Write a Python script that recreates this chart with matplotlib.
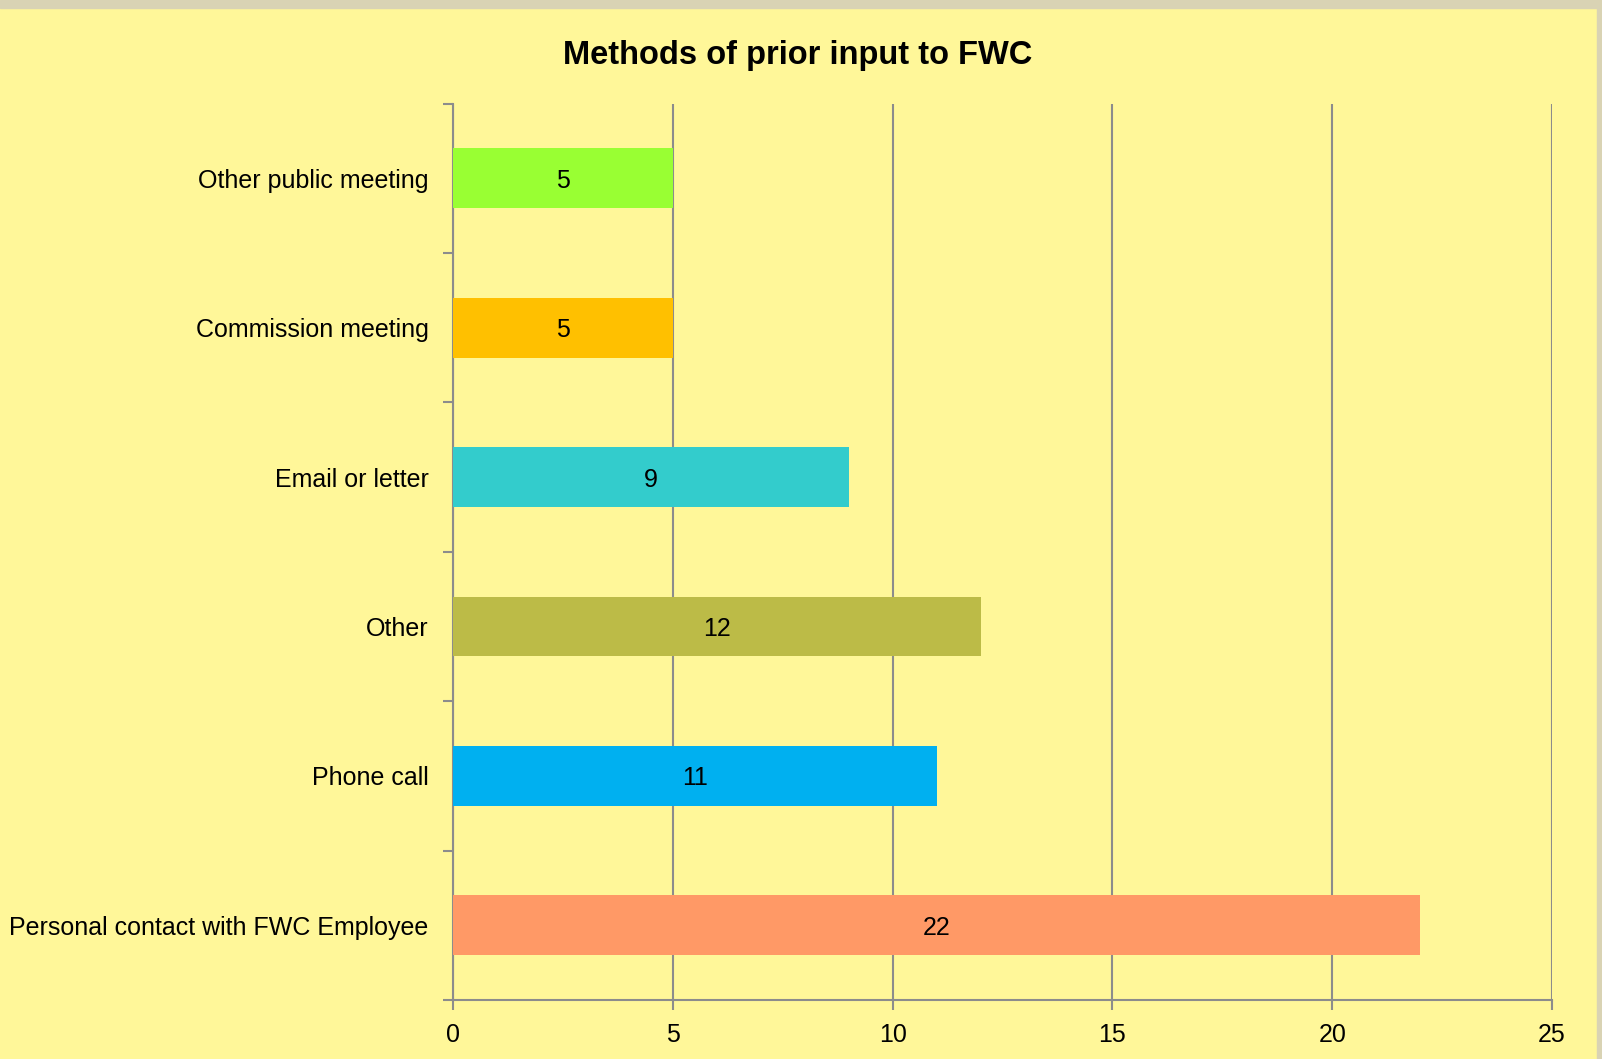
import matplotlib.pyplot as plt
import numpy as np
from matplotlib.patches import Rectangle

# data, bottom to top as drawn
categories = ['Personal contact with FWC Employee', 'Phone call', 'Other',
              'Email or letter', 'Commission meeting', 'Other public meeting']
counts = [22, 11, 12, 9, 5, 5]
bar_colors = ['#FF9966', '#00B0F0', '#BCBB47', '#33CCCC', '#FFC000', '#99FF33']
x_ticks = [0, 5, 10, 15, 20, 25]

BG = '#FFF799'
GRID = '#8C8C8C'
FS = 18

plt.rcParams['font.family'] = ['Liberation Sans', 'DejaVu Sans']

fig = plt.figure(figsize=(16.02, 10.59), dpi=100, facecolor=BG)
# beige frame strip along top and right edge, like the slide background
fig.patches.append(Rectangle((0, 1 - 8 / 1059), 1, 8 / 1059, transform=fig.transFigure,
                             color='#D9D3B4', zorder=-1))
fig.patches.append(Rectangle((1 - 5 / 1602, 0), 5 / 1602, 1, transform=fig.transFigure,
                             color='#D9D3B4', zorder=-1))

ax = fig.add_axes([453 / 1602, 1 - 1000 / 1059, 1099 / 1602, (1000 - 103.5) / 1059])
ax.set_facecolor(BG)

y = np.arange(len(categories))
ax.barh(y, counts, height=0.4, color=bar_colors, zorder=3)

for yi, v in zip(y, counts):
    ax.text(v / 2, yi, str(v), ha='center', va='center_baseline', fontsize=FS, zorder=4)

ax.set_xlim(0, 25)
ax.set_ylim(-0.5, len(categories) - 0.5)
ax.set_xticks(x_ticks)
ax.set_xticklabels([str(t) for t in x_ticks])

# tick marks at category boundaries, labels at centres
ax.set_yticks(np.arange(-0.5, len(categories), 1.0))
ax.set_yticklabels([])
ax.set_yticks(y, minor=True)
ax.set_yticklabels(categories, minor=True)
ax.tick_params(axis='y', which='major', length=7, width=1.5, color=GRID, direction='out')
ax.tick_params(axis='y', which='minor', length=0, pad=17.5, labelsize=FS)
ax.tick_params(axis='x', length=7, width=1.5, color=GRID, pad=9.5, labelsize=FS)

ax.grid(axis='x', color=GRID, linewidth=1.5, zorder=1)
for s in ['top', 'right']:
    ax.spines[s].set_visible(False)
for s in ['left', 'bottom']:
    ax.spines[s].set_color(GRID)
    ax.spines[s].set_linewidth(1.5)

fig.text(798 / 1602, 1 - 64 / 1059, 'Methods of prior input to FWC', ha='center', va='baseline',
         fontsize=23.5, fontweight='bold')

fig.savefig('out.png', dpi=100, facecolor=BG)
